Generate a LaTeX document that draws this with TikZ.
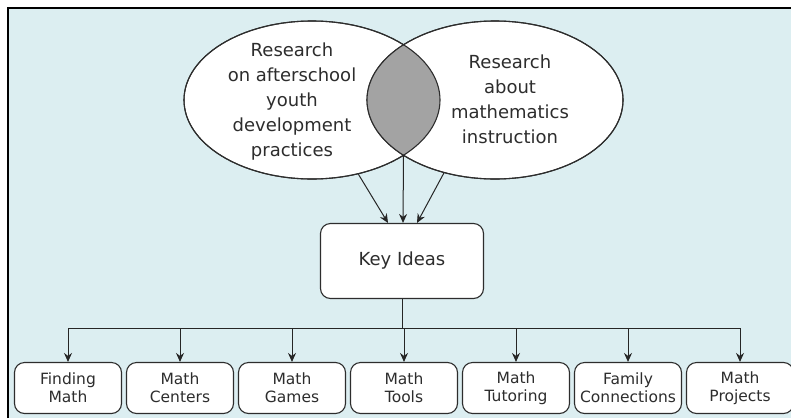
\documentclass[tikz,border=0pt]{standalone}
\usepackage{fontspec}
\setmainfont{DejaVu Sans}
\usepackage{tikz}
\usetikzlibrary{shapes.geometric,arrows.meta}
\definecolor{panel}{RGB}{220,238,241}
\definecolor{lens}{RGB}{163,163,163}
\definecolor{ink}{RGB}{45,45,45}

\begin{document}
\begin{tikzpicture}[x=1pt,y=-1pt,>={Stealth[length=9pt,width=8pt]}]
\tikzstyle{research}=[ellipse,draw=ink,line width=1.1pt,fill=white,minimum width=256pt,minimum height=158pt,inner sep=0pt]
\tikzstyle{idea}=[draw=ink,line width=1.1pt,fill=white,rounded corners=10pt,text=ink]
\tikzstyle{activity}=[idea,minimum width=107pt,minimum height=51pt,align=center,font=\fontsize{15.5}{18}\selectfont]
\tikzstyle{link}=[->,line width=1pt,draw=black!85]
	\useasboundingbox (0,0) rectangle (791,418);
	\fill[panel] (8,8) rectangle (791,418);
	\draw[line width=1.2pt] (8,418) -- (8,8) -- (791,8);
	% Venn part
	\node[research] (afterschool) at (312,100) {};
	\node[research] (mathinstr) at (495,100) {};
	\begin{scope}
		\clip (312,100) ellipse [x radius=128pt,y radius=79pt];
		\fill[lens] (495,100) ellipse [x radius=128pt,y radius=79pt];
	\end{scope}
	\draw[ink,line width=1.1pt] (312,100) ellipse [x radius=128pt,y radius=79pt];
	\draw[ink,line width=1.1pt] (495,100) ellipse [x radius=128pt,y radius=79pt];
	\node[align=center,text=ink,font=\fontsize{18}{25}\selectfont] (afterschooltext) at (292,102)
		{Research\\on afterschool\\youth\\development\\practices};
	\node[align=center,text=ink,font=\fontsize{18}{25}\selectfont] (mathinstrtext) at (510,99)
		{Research\\about\\mathematics\\instruction};
	\coordinate (lensbot) at (403.5,155);
	% key ideas
	\node[idea,minimum width=163pt,minimum height=75pt,font=\fontsize{18}{20}\selectfont] (keyideas) at (402,261) {Key Ideas};
	\draw[link] (afterschool.-58) -- ([xshift=-14pt]keyideas.north);
	\draw[link] (lensbot) -- ([xshift=1pt]keyideas.north);
	\draw[link] (mathinstr.-125) -- ([xshift=15pt]keyideas.north);
	% activities
	\node[activity] (finding) at (68,388) {Finding\\Math};
	\node[activity] (centers) at (180,388) {Math\\Centers};
	\node[activity] (games) at (292,388) {Math\\Games};
	\node[activity] (tools) at (404,388) {Math\\Tools};
	\node[activity] (tutoring) at (516,388) {Math\\Tutoring};
	\node[activity] (family) at (628,388) {Family\\Connections};
	\node[activity] (projects) at (740,388) {Math\\Projects};
	\coordinate (bar) at (402,328);
	\draw[line width=1pt,draw=black!85] (keyideas.south) -- (bar);
	\draw[line width=1pt,draw=black!85] (finding.north |- bar) -- (projects.north |- bar);
	\foreach \act in {finding,centers,games,tools,tutoring,family,projects}
		\draw[link] (\act.north |- bar) -- (\act.north);
\end{tikzpicture}
\end{document}
